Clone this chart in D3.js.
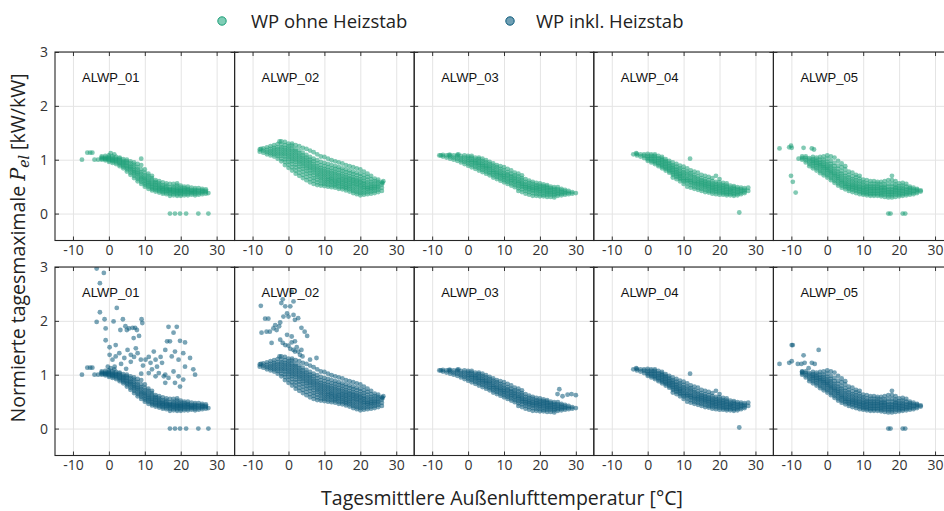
<!DOCTYPE html>
<html><head><meta charset="utf-8">
<script src="https://cdn.jsdelivr.net/npm/d3@7/dist/d3.min.js"></script>
<style>body{margin:0;background:#fff}svg{display:block}</style>
</head><body>
<svg id="c" width="944" height="511"></svg>
<script>
// ---------- data ----------
const units = ["ALWP_01","ALWP_02","ALWP_03","ALWP_04","ALWP_05"];
const seriesNames = ["WP ohne Heizstab","WP inkl. Heizstab"];
const xTicks = [-10,0,10,20,30];
const yTicks = [0,1,2,3];
const xLabel = "Tagesmittlere Außenlufttemperatur [°C]";

// main cloud per unit: [temperature, P values observed near that temperature ...]
const band01 = [
 [-2,1.00,1.02,1.04,1.06],[-1,0.99,1.01,1.02,1.04,1.07],[0,0.96,0.99,1.01,1.03,1.05,1.08],
 [1,0.94,0.97,0.99,1.01,1.03,1.06],[2,0.92,0.95,0.98,1.0,1.02,1.05],[3,0.88,0.91,0.94,0.96,0.99,1.02,1.04],
 [4,0.84,0.87,0.9,0.93,0.95,0.98,1.01],[5,0.78,0.82,0.85,0.88,0.91,0.94,0.97,1.0],
 [6,0.72,0.76,0.8,0.83,0.86,0.89,0.93,0.97],[7,0.66,0.7,0.74,0.77,0.8,0.83,0.87,0.91,0.95],
 [8,0.6,0.64,0.68,0.72,0.75,0.78,0.82,0.86,0.92],[9,0.55,0.59,0.63,0.66,0.69,0.73,0.77,0.82,0.9,1.02],
 [10,0.5,0.54,0.57,0.61,0.64,0.67,0.71,0.76,0.82],[11,0.46,0.5,0.53,0.56,0.59,0.62,0.66,0.7,0.74],
 [12,0.43,0.46,0.49,0.52,0.55,0.58,0.62,0.66,0.7],[13,0.41,0.44,0.47,0.5,0.53,0.56,0.59,0.62],
 [14,0.39,0.42,0.45,0.47,0.5,0.53,0.56,0.6],[15,0.37,0.4,0.43,0.45,0.47,0.5,0.53,0.58],
 [16,0.36,0.39,0.42,0.44,0.46,0.49,0.52,0.56],[17,0.33,0.37,0.4,0.42,0.44,0.46,0.49,0.55],
 [18,0.34,0.37,0.4,0.42,0.44,0.47,0.5,0.55],[19,0.33,0.36,0.39,0.41,0.43,0.45,0.48,0.52,0.56],
 [20,0.33,0.36,0.39,0.41,0.43,0.45,0.48,0.52],[21,0.34,0.37,0.4,0.42,0.44,0.47,0.5],
 [22,0.34,0.37,0.4,0.42,0.44,0.46,0.5],[23,0.35,0.38,0.4,0.42,0.44,0.48],
 [24,0.34,0.37,0.4,0.42,0.44,0.47],[25,0.35,0.38,0.41,0.43,0.47],[26,0.36,0.39,0.41,0.43,0.46],
 [27,0.37,0.4,0.42,0.45],
 [-7.5,1.0],[-6,1.13],[-5.2,1.13],[-4.6,1.13],[-4,1.0],[-3,1.0],[0.5,1.12],[1.5,1.1],[27.7,0.38],
 [17,0],[18.4,0],[19.8,0],[21.5,0],[24.9,0],[27.7,0]
];
const band02 = [
 [-8,1.15,1.19],[-7,1.13,1.17,1.21],[-6,1.1,1.14,1.18,1.23],[-5,1.08,1.12,1.16,1.2,1.25],
 [-4,1.06,1.1,1.14,1.18,1.22,1.27],[-3,1.02,1.07,1.11,1.15,1.19,1.23,1.29],
 [-2,0.97,1.02,1.07,1.11,1.15,1.19,1.23,1.28,1.34],[-1,0.9,0.96,1.01,1.06,1.1,1.14,1.18,1.22,1.27,1.33],
 [0,0.85,0.91,0.96,1.01,1.05,1.09,1.13,1.17,1.21,1.25,1.3],
 [1,0.8,0.86,0.92,0.97,1.01,1.05,1.09,1.13,1.17,1.21,1.26,1.3],
 [2,0.74,0.8,0.86,0.91,0.96,1.0,1.04,1.08,1.12,1.16,1.2,1.27],
 [3,0.7,0.76,0.82,0.87,0.92,0.96,1.0,1.04,1.08,1.12,1.17,1.25],
 [4,0.66,0.72,0.78,0.83,0.88,0.92,0.96,1.0,1.04,1.08,1.13,1.22],
 [5,0.62,0.68,0.74,0.79,0.84,0.88,0.92,0.96,1.0,1.04,1.09,1.2],
 [6,0.58,0.64,0.7,0.75,0.8,0.84,0.88,0.92,0.96,1.0,1.05,1.17],
 [7,0.55,0.61,0.66,0.71,0.76,0.8,0.84,0.88,0.92,0.97,1.02,1.14],
 [8,0.53,0.58,0.63,0.68,0.72,0.76,0.8,0.84,0.88,0.93,0.99,1.1],
 [9,0.52,0.56,0.61,0.65,0.69,0.73,0.77,0.81,0.85,0.9,0.96,1.06],
 [10,0.51,0.55,0.59,0.63,0.67,0.71,0.75,0.79,0.83,0.88,0.94,1.05],
 [11,0.5,0.54,0.58,0.62,0.65,0.69,0.73,0.77,0.81,0.86,0.92,1.02],
 [12,0.49,0.53,0.57,0.6,0.64,0.67,0.71,0.75,0.79,0.84,0.9,0.99],
 [13,0.48,0.52,0.55,0.59,0.62,0.66,0.7,0.74,0.78,0.83,0.88,0.97],
 [14,0.46,0.5,0.54,0.57,0.61,0.64,0.68,0.72,0.76,0.81,0.86,0.95],
 [15,0.45,0.49,0.52,0.56,0.59,0.63,0.66,0.7,0.74,0.79,0.84,0.93],
 [16,0.43,0.47,0.5,0.54,0.57,0.61,0.64,0.68,0.72,0.77,0.82,0.9],
 [17,0.41,0.45,0.49,0.52,0.56,0.59,0.63,0.66,0.7,0.75,0.8,0.88],
 [18,0.38,0.42,0.46,0.5,0.54,0.57,0.61,0.64,0.68,0.73,0.78,0.86],
 [19,0.36,0.4,0.44,0.48,0.52,0.55,0.59,0.62,0.66,0.71,0.76,0.84],
 [20,0.34,0.38,0.42,0.46,0.5,0.53,0.57,0.6,0.64,0.69,0.74,0.82],
 [21,0.35,0.39,0.43,0.47,0.5,0.54,0.57,0.61,0.66,0.71,0.78],
 [22,0.36,0.4,0.44,0.47,0.5,0.54,0.58,0.63,0.68,0.74],[23,0.37,0.41,0.45,0.48,0.51,0.55,0.59,0.64,0.7],
 [24,0.38,0.42,0.46,0.49,0.52,0.56,0.6,0.65],[25,0.4,0.44,0.48,0.51,0.55,0.59,0.63],[26,0.42,0.48,0.54,0.58],
 [26.4,0.6],[26.2,0.57],[-7.7,1.2],[-2.5,1.34]
];
const band03 = [
 [-8,1.08],[-7,1.06,1.09],[-6,1.04,1.08],[-5,1.02,1.06,1.09],[-4,1.0,1.04,1.08],[-3,0.98,1.02,1.06,1.09],
 [-2,0.95,0.99,1.03,1.07],[-1,0.92,0.96,1.0,1.04,1.08],[0,0.89,0.93,0.97,1.0,1.04,1.07],
 [1,0.86,0.9,0.94,0.97,1.0,1.04,1.07],[2,0.83,0.87,0.91,0.94,0.97,1.0,1.04],
 [3,0.8,0.84,0.88,0.91,0.94,0.97,1.01,1.04],[4,0.77,0.81,0.85,0.88,0.91,0.94,0.98,1.02],
 [5,0.74,0.78,0.82,0.85,0.88,0.91,0.95,0.99],[6,0.71,0.75,0.78,0.82,0.85,0.88,0.92,0.96],
 [7,0.67,0.71,0.75,0.78,0.81,0.85,0.89,0.93],[8,0.64,0.68,0.72,0.75,0.78,0.82,0.86,0.9],
 [9,0.61,0.65,0.69,0.72,0.75,0.79,0.83,0.88],[10,0.58,0.62,0.66,0.69,0.72,0.76,0.8,0.86],
 [11,0.55,0.59,0.63,0.66,0.7,0.73,0.77,0.83],[12,0.52,0.56,0.6,0.63,0.67,0.7,0.74,0.8],
 [13,0.49,0.53,0.57,0.6,0.64,0.67,0.71,0.76],[14,0.42,0.47,0.51,0.55,0.58,0.61,0.65,0.69,0.74],
 [15,0.4,0.45,0.49,0.52,0.55,0.58,0.62,0.66,0.71],[16,0.37,0.42,0.46,0.49,0.52,0.55,0.59,0.64],
 [17,0.35,0.4,0.44,0.47,0.5,0.53,0.57,0.61],[18,0.33,0.38,0.42,0.45,0.48,0.51,0.55,0.59],
 [19,0.33,0.37,0.41,0.44,0.47,0.5,0.53,0.57],[20,0.32,0.36,0.4,0.43,0.46,0.49,0.52,0.56],
 [21,0.32,0.35,0.39,0.42,0.45,0.48,0.51,0.54],[22,0.31,0.35,0.38,0.41,0.44,0.47,0.5,0.53],
 [23,0.31,0.35,0.38,0.41,0.44,0.47,0.5],[24,0.3,0.34,0.37,0.4,0.43,0.46,0.49],
 [25,0.33,0.36,0.39,0.42,0.45,0.49],[26,0.34,0.37,0.4,0.43,0.46],[27,0.35,0.38,0.41,0.44],
 [28,0.36,0.39,0.42],[29,0.37,0.4],[30,0.38],
 [-7.6,1.08],[-5.3,1.09],[-2.7,1.1]
];
const band04 = [
 [-4,1.1],[-3,1.08,1.11],[-2,1.06,1.1],[-1,1.03,1.07,1.1],[0,0.98,1.01,1.04,1.07,1.11],
 [1,0.95,0.98,1.01,1.04,1.07,1.1],[2,0.92,0.95,0.98,1.01,1.04,1.07,1.1],
 [3,0.88,0.91,0.94,0.97,1.0,1.03,1.07],[4,0.84,0.87,0.9,0.93,0.96,0.99,1.02,1.05],
 [5,0.8,0.83,0.86,0.89,0.92,0.95,0.98,1.01],[6,0.76,0.79,0.82,0.85,0.88,0.91,0.94,0.98],
 [7,0.67,0.72,0.75,0.78,0.81,0.84,0.87,0.9,0.95],[8,0.64,0.68,0.71,0.74,0.77,0.8,0.83,0.87,0.92],
 [9,0.6,0.64,0.67,0.7,0.73,0.76,0.8,0.84,0.89],[10,0.55,0.6,0.63,0.66,0.7,0.73,0.77,0.81,0.87],
 [11,0.5,0.56,0.6,0.63,0.66,0.7,0.74,0.78,0.84],[12,0.48,0.53,0.57,0.6,0.63,0.67,0.71,0.75,0.8],
 [13,0.46,0.5,0.54,0.57,0.6,0.64,0.68,0.72,0.78],[14,0.44,0.48,0.52,0.55,0.58,0.61,0.65,0.69,0.76],
 [15,0.42,0.46,0.5,0.53,0.56,0.59,0.62,0.66,0.72],[16,0.4,0.44,0.48,0.51,0.54,0.57,0.6,0.64,0.7],
 [17,0.39,0.42,0.46,0.49,0.52,0.55,0.58,0.62,0.68],[18,0.37,0.41,0.44,0.47,0.5,0.53,0.56,0.6,0.66],
 [19,0.36,0.4,0.43,0.46,0.49,0.52,0.55,0.59,0.7],[20,0.35,0.39,0.42,0.45,0.48,0.51,0.54,0.58,0.64],
 [21,0.35,0.38,0.41,0.44,0.47,0.5,0.53,0.57],[22,0.34,0.37,0.4,0.43,0.46,0.49,0.52,0.56],
 [23,0.34,0.37,0.4,0.43,0.45,0.48,0.52],[24,0.33,0.36,0.39,0.42,0.45,0.48,0.51],
 [25,0.34,0.37,0.4,0.43,0.46,0.49],[26,0.36,0.39,0.42,0.45,0.48],[27,0.38,0.41,0.44,0.47],[28,0.42,0.48],
 [-3.2,1.12],[11.8,1.02],[25.5,0.02]
];
const band05 = [
 [-7,1.0,1.03,1.06],[-6,0.95,0.99,1.03,1.06],[-5,0.88,0.92,0.96,1.0,1.03],
 [-4,0.84,0.88,0.92,0.95,0.98,1.01,1.05],[-3,0.8,0.84,0.88,0.91,0.94,0.97,1.0,1.04],
 [-2,0.75,0.79,0.83,0.87,0.9,0.93,0.96,1.0,1.05],[-1,0.71,0.75,0.79,0.83,0.86,0.89,0.92,0.96,1.0,1.06],
 [0,0.67,0.71,0.75,0.79,0.82,0.85,0.88,0.92,0.96,1.02,1.08],[1,0.62,0.66,0.7,0.74,0.77,0.8,0.84,0.88,0.92,0.98,1.06],
 [2,0.57,0.61,0.65,0.69,0.72,0.75,0.79,0.83,0.88,0.94,1.04],[3,0.52,0.56,0.6,0.64,0.67,0.7,0.74,0.78,0.83,0.89,0.98],
 [4,0.48,0.52,0.56,0.59,0.62,0.66,0.7,0.74,0.79,0.86,0.93],[5,0.45,0.49,0.52,0.55,0.58,0.62,0.66,0.7,0.75,0.82,0.88],
 [6,0.42,0.46,0.49,0.52,0.55,0.59,0.63,0.67,0.72,0.78],[7,0.4,0.44,0.47,0.5,0.53,0.56,0.6,0.64,0.69,0.76],
 [8,0.38,0.42,0.45,0.48,0.51,0.54,0.58,0.62,0.67,0.72],[9,0.36,0.4,0.43,0.46,0.49,0.52,0.56,0.6,0.65,0.7],
 [10,0.35,0.38,0.41,0.44,0.47,0.5,0.54,0.58,0.63],[11,0.34,0.37,0.4,0.43,0.46,0.49,0.52,0.56,0.62],
 [12,0.33,0.36,0.39,0.42,0.45,0.48,0.51,0.55,0.6],[13,0.33,0.36,0.39,0.42,0.45,0.48,0.51,0.55,0.6],
 [14,0.33,0.36,0.39,0.42,0.45,0.48,0.51,0.55,0.59],[15,0.32,0.35,0.38,0.41,0.44,0.47,0.5,0.54,0.59],
 [16,0.31,0.35,0.38,0.41,0.44,0.47,0.5,0.54,0.6],[17,0.3,0.34,0.37,0.4,0.43,0.46,0.5,0.55,0.62],
 [18,0.3,0.34,0.37,0.4,0.43,0.46,0.5,0.55,0.62,0.7],[19,0.31,0.35,0.38,0.41,0.44,0.47,0.5,0.54,0.6],
 [20,0.32,0.35,0.38,0.41,0.44,0.47,0.51,0.56],[21,0.33,0.36,0.39,0.42,0.45,0.48,0.52,0.57],
 [22,0.34,0.37,0.4,0.43,0.46,0.5,0.55],[23,0.35,0.38,0.41,0.44,0.47,0.5],[24,0.36,0.39,0.42,0.45,0.48],
 [25,0.38,0.41,0.44,0.46],[26,0.41,0.43],
 [17,0],[17.6,0],[21,0],[21.7,0]
];
const bands = [band01, band02, band03, band04, band05];

// points only seen in the "ohne Heizstab" row: [temperature, P]
const onlyOhne = [
 [], [], [], [],
 [[-13.3,1.21],[-10.6,1.23],[-10.1,1.26],[-9.9,1.22],[-6.6,1.22],[-4.3,1.21],[-3.7,1.19],
  [-10.1,0.7],[-9.6,0.59],[-8.8,0.39],[-8,1.02]]
];
// additional days with heating rod, seen only in the "inkl. Heizstab" row
const onlyInkl = [
 [[-3.4,2.97],[-1.4,2.89],[-2.5,2.7],[-2.5,2.16],[2.2,2.24],[-3.4,1.98],[-1.2,2.03],[-0.9,1.86],[1.3,1.99],
  [-0.9,1.64],[0.2,1.51],[1.9,1.55],[3.9,2.03],[3.2,1.83],[4.6,1.9],[5.0,1.83],[5.6,1.86],[6.6,1.87],
  [7.3,1.87],[6.9,1.68],[7.8,1.83],[8.4,1.72],[9.1,2.03],[9.3,1.96],[7.5,1.49],[8.0,1.4],[5.2,1.46],
  [6.1,1.37],[2.9,1.4],[4.3,1.31],[1.0,1.28],[1.9,1.34],[0.2,1.37],[-0.3,1.15],[1.6,1.15],[3.4,1.2],
  [4.8,1.11],[6.1,1.24],[7.0,1.33],[8.9,1.28],[9.5,1.17],[10.2,1.28],[11.1,1.33],[11.6,1.22],[12.5,1.43],
  [13.0,1.28],[12.0,1.1],[13.4,1.15],[14.4,1.33],[14.8,1.22],[15.7,1.46],[16.2,1.62],[15.3,0.97],
  [15.7,0.85],[16.6,1.89],[18.9,1.89],[18.0,1.78],[17.0,1.62],[18.4,1.43],[17.5,1.34],[19.4,1.28],
  [19.8,1.63],[21.2,1.6],[20.7,1.4],[22.6,1.31],[23.5,1.1],[24.0,1.0],[21.2,1.15],[18.0,1.06],
  [19.4,0.97],[19.8,0.78],[16.6,0.94],[15.7,1.0],[18.4,0.85],[20.7,0.91],[13.0,0.97],[13.9,1.03],[11.1,1.03]],
 [[-7.7,2.28],[-6.5,2.04],[-5.6,2.04],[-7.5,1.78],[-6.1,1.8],[-5.2,1.8],[-4.7,1.59],[-4.2,1.86],[-3.7,1.92],
  [-3.3,1.83],[-2.6,1.9],[-2.3,1.97],[-2.0,2.33],[-1.6,2.4],[-1.4,2.08],[-0.9,2.27],[-0.4,2.14],[0.0,2.08],
  [0.9,2.54],[1.4,2.36],[0.5,2.27],[1.4,2.11],[1.8,2.02],[2.7,2.05],[3.6,1.87],[4.5,1.8],[5.2,1.72],
  [-2.3,1.65],[-1.6,1.59],[-0.9,1.55],[0.0,1.54],[0.5,1.48],[1.4,1.46],[1.8,1.43],[2.3,1.51],[2.7,1.43],
  [3.2,1.37],[3.6,1.46],[3.9,1.34],[6.0,1.28],[7.8,1.31],[-0.4,1.74],[0.9,1.71],[1.8,1.62],[0.9,1.6]],
 [[25.4,0.73],[26.3,0.6],[27.7,0.63],[28.8,0.64],[30.0,0.62],[24.9,0.64]],
 [],
 [[-9.9,1.55],[-9.6,1.55],[-13.3,1.2],[-10.6,1.22],[-9.9,1.25],[-6.6,1.36],[-2.4,1.46],[-4.3,1.22],
  [-8.2,1.2],[-7.2,1.2],[-6.3,1.22],[-5.2,1.12],[-3.5,1.2],[-7,1.05]]
];

// ---------- drawing ----------
const colors = ["#1b9e77", "#0b5a7a"];
const PL = 55, PW = 179.6, PH = 188.5, rowTop = [52, 267];
const svg = d3.select("#c");
const x = d3.scaleLinear().domain([-15, 35]).range([0, PW]);
const y = d3.scaleLinear().domain([-0.5, 3]).range([PH, 0]);
const tickFont = "'Open Sans', 'Noto Sans', sans-serif";

const expand = cols => cols.flatMap(([t, ...vs]) => vs.map(v => [t, v]));

svg.append("defs").append("clipPath").attr("id", "pc")
  .append("rect").attr("width", PW).attr("height", PH);

[0, 1].forEach(r => {
  units.forEach((u, i) => {
    const g = svg.append("g").attr("transform", `translate(${PL + i * PW},${rowTop[r]})`);
    // grid
    g.append("g").attr("class", "grid").attr("transform", `translate(0,${PH})`)
      .call(d3.axisBottom(x).tickValues(xTicks).tickSize(-PH).tickFormat(""));
    g.append("g").attr("class", "grid")
      .call(d3.axisLeft(y).tickValues(yTicks).tickSize(-PW).tickFormat(""));
    g.selectAll(".grid .domain").remove();
    g.selectAll(".grid line").attr("stroke", "#e4e4e4").attr("stroke-width", 1);

    // points
    const pts = expand(bands[i]).concat(r === 0 ? onlyOhne[i] : onlyInkl[i]);
    g.append("g").attr("clip-path", "url(#pc)")
      .selectAll("circle").data(pts).join("circle")
      .attr("cx", d => x(d[0])).attr("cy", d => y(d[1])).attr("r", 2.4)
      .attr("fill", colors[r]).attr("fill-opacity", 0.55);

    // axes with inward ticks
    g.append("g").attr("transform", `translate(0,${PH})`)
      .call(d3.axisBottom(x).tickValues(xTicks).tickSizeInner(-4).tickSizeOuter(0).tickPadding(5)
        .tickFormat(d => String(d)));
    g.append("g").call(d3.axisTop(x).tickValues(xTicks).tickSizeInner(-4).tickSizeOuter(0).tickFormat(""));
    g.append("g").call(d3.axisLeft(y).tickValues(yTicks).tickSizeInner(-4).tickSizeOuter(0)
        .tickPadding(7).tickFormat(i === 0 ? (d => String(d)) : ""));
    g.append("g").attr("transform", `translate(${PW},0)`)
      .call(d3.axisRight(y).tickValues(yTicks).tickSizeInner(-4).tickSizeOuter(0).tickFormat(""));
    g.selectAll(".domain").remove();
    g.selectAll(".tick line").filter(function(){ return !this.closest(".grid"); })
      .attr("stroke", "#333");
    g.selectAll("text").attr("font-family", tickFont).attr("font-size", 14).attr("fill", "#333");

    g.append("rect").attr("width", PW).attr("height", PH)
      .attr("fill", "none").attr("stroke", "#262626").attr("stroke-width", 1.1);

    g.append("text").attr("x", 27).attr("y", 30).text(u)
      .attr("font-family", "'Liberation Sans', Arial, sans-serif").attr("font-size", 13).attr("fill", "#111");
  });
});

// legend
const legX = [222, 510], legTX = [251, 536];
const legFill = ["#7fcdb6", "#6f9fb4"];
seriesNames.forEach((s, k) => {
  svg.append("circle").attr("cx", legX[k]).attr("cy", 21).attr("r", 4.2)
    .attr("fill", legFill[k]).attr("stroke", colors[k]).attr("stroke-width", 1);
  svg.append("text").attr("x", legTX[k]).attr("y", 28).text(s)
    .attr("font-family", tickFont).attr("font-size", 18.5).attr("fill", "#222");
});

// axis titles
svg.append("text").attr("x", 502).attr("y", 505).attr("text-anchor", "middle").text(xLabel)
  .attr("font-family", tickFont).attr("font-size", 19.5).attr("fill", "#222");

const yt = svg.append("text").attr("transform", "translate(25,248) rotate(-90)")
  .attr("text-anchor", "middle").attr("font-family", tickFont).attr("font-size", 19.5).attr("fill", "#222");
yt.append("tspan").text("Normierte tagesmaximale ");
yt.append("tspan").text("P").attr("font-family", "'DejaVu Serif', serif").attr("font-style", "italic");
yt.append("tspan").text("el").attr("font-family", "'DejaVu Serif', serif").attr("font-style", "italic")
  .attr("font-size", 14).attr("baseline-shift", "-4");
yt.append("tspan").text(" [kW/kW]");
</script>
</body></html>
